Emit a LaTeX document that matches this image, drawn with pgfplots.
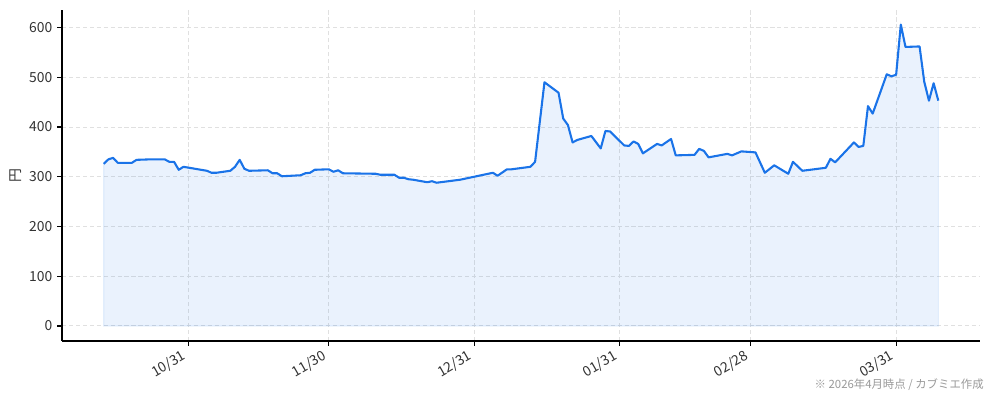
\documentclass[border=0pt]{standalone}
\usepackage{fontspec}
\setmainfont{Noto Sans CJK JP}
\setsansfont{Noto Sans CJK JP}
\usepackage{pgfplots}
\usepackage{pgfplotstable}
\pgfplotsset{compat=1.18}
\definecolor{lineblue}{HTML}{1A73E8}
\definecolor{gridgray}{HTML}{E0E0E0}
\definecolor{ticktext}{HTML}{333333}
\definecolor{notegray}{HTML}{999999}

% day 0 = 10/31
\pgfplotstableread{
day price
-18 326
-17 335
-16 338
-15 328
-12 328
-11 334
-8 335
-5 335
-4 330
-3 330
-2 314
-1 320
4 312
5 308
6 308
9 312
10 320
11 334
12 316
13 312
17 313
18 307
19 307
20 301
24 303
25 307
26 308
27 314
30 315
31 310
32 313
33 307
40 306
41 304
44 304
45 298
46 298
47 295
48 294
51 289
52 291
53 288
58 294
61 300
65 308
66 302
68 315
69 315
73 320
74 330
76 490
79 469
80 417
81 404
82 369
83 374
86 382
88 357
89 392
90 391
93 363
94 362
95 371
96 366
97 347
100 366
101 363
103 376
104 343
108 344
109 356
110 352
111 339
115 346
116 343
118 351
121 349
123 308
125 323
128 306
129 330
131 312
136 318
137 336
138 329
142 369
143 360
144 362
145 442
146 427
149 506
150 502
151 505
152 606
153 561
156 562
157 491
158 453
159 488
160 453
}\price

\begin{document}
\begin{tikzpicture}
\begin{axis}[
    name=ax,
    at={(0,0)}, anchor=south west,
    scale only axis,
    width=661pt, height=238.3pt,
    xmin=-26.9, xmax=168.9,
    ymin=-30.25, ymax=635.25,
    axis x line*=bottom,
    axis y line*=left,
    axis line style={black, line width=0.8pt},
    xtick={0,30,61,92,120,151},
    xticklabels={10/31,11/30,12/31,01/31,02/28,03/31},
    ytick={0,100,...,600},
    tick align=outside,
    major tick length=3.5pt,
    tick style={black, line width=0.8pt},
    ticklabel style={font=\fontsize{10}{12}\selectfont, text=ticktext},
    xticklabel style={rotate=30, anchor=north east, inner sep=1.5pt, xshift=-4pt, yshift=2pt},
    /pgf/number format/assume math mode=true,
    ylabel={円},
    ylabel style={at={(axis description cs:-0.05,0.5)}, anchor=center,
        font=\fontsize{10}{12}\selectfont, text=ticktext},
    grid=major,
    major grid style={gridgray, line width=0.7pt, dash pattern=on 3pt off 2pt},
    clip=false,
]
\addplot[draw=lineblue, draw opacity=0.1, fill=lineblue, fill opacity=0.09, line width=0.8pt]
    table[x=day, y=price] {\price} \closedcycle;
\addplot[lineblue, line width=1.5pt, line join=round] table[x=day, y=price] {\price};
\end{axis}
\node[anchor=east, text=notegray, font=\fontsize{8.2}{10}\selectfont, inner sep=0pt]
    at (663.8pt,-31.5pt) {※ 2026年4月時点 / カブミエ作成};
\pgfresetboundingbox
\path[use as bounding box] (-44.64pt,-43.2pt) rectangle (671.04pt,245.52pt);
\end{tikzpicture}
\end{document}
